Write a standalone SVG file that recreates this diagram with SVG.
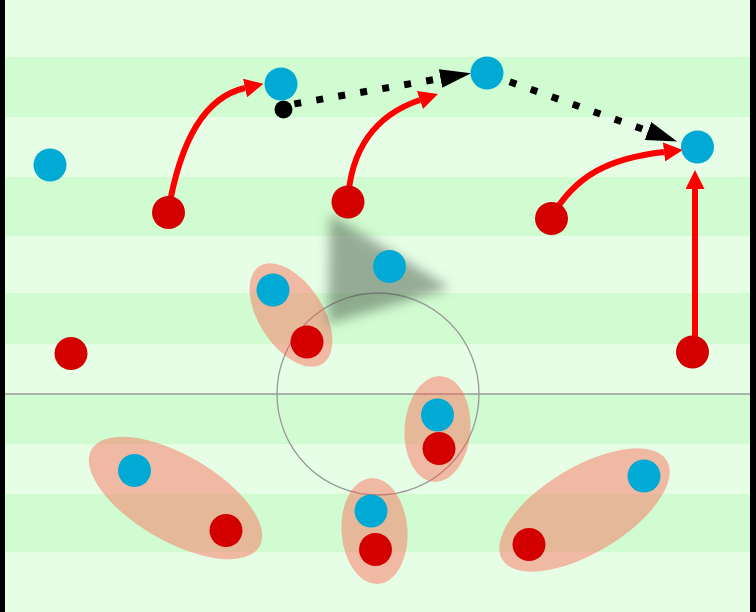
<svg xmlns="http://www.w3.org/2000/svg" width="756" height="612" viewBox="0 0 756 612">
<style>
.light{fill:#e6fee6}
.dark{fill:#d1fcd1}
.blue{fill:#00aad4}
.red{fill:#d40000}
.zone{fill:#ff5a4a;opacity:0.42}
.run{fill:none;stroke:#ff0000;stroke-width:6}
.pass{fill:none;stroke:#000;stroke-width:7;stroke-dasharray:7 15.3}
.pitch{fill:none;stroke:#999;stroke-width:1.3}
</style>
<defs>
<marker id="redhead" markerUnits="userSpaceOnUse" markerWidth="19" markerHeight="19" refX="0" refY="9.5" orient="auto" viewBox="0 0 19 19">
<path d="M0,0 L19,9.5 L0,19 Z" fill="#ff0000"/>
</marker>
<marker id="blackhead" markerUnits="userSpaceOnUse" markerWidth="31" markerHeight="19" refX="0" refY="9.5" orient="auto" viewBox="0 0 31 19">
<path d="M0,0 L31,9.5 L0,19 Z" fill="#000"/>
</marker>
<filter id="blur" x="-30%" y="-30%" width="160%" height="160%">
<feGaussianBlur stdDeviation="6"/>
</filter>
</defs>
<g id="pitch">
<rect x="0" y="0" width="756" height="612" class="light"/>
<rect x="0" y="57" width="756" height="60" class="dark"/>
<rect x="0" y="177" width="756" height="59" class="dark"/>
<rect x="0" y="293" width="756" height="51" class="dark"/>
<rect x="0" y="394" width="756" height="50" class="dark"/>
<rect x="0" y="494" width="756" height="58" class="dark"/>
<line x1="5" y1="394" x2="750" y2="394" class="pitch"/>
<circle cx="378" cy="394" r="101" class="pitch"/>
<rect x="0" y="0" width="5" height="612" fill="#000"/>
<rect x="750" y="0" width="6" height="612" fill="#000"/>
</g>
<g id="zones">
<ellipse id="zone1" cx="291" cy="315" rx="58" ry="32" transform="rotate(57 291 315)" class="zone"/>
<ellipse id="zone2" cx="437.5" cy="429" rx="33" ry="53" transform="rotate(4 437.5 429)" class="zone"/>
<ellipse id="zone3" cx="175.5" cy="498" rx="97" ry="43" transform="rotate(30 175.5 498)" class="zone"/>
<ellipse id="zone4" cx="374.5" cy="531" rx="33" ry="53" transform="rotate(-4 374.5 531)" class="zone"/>
<ellipse id="zone5" cx="584.5" cy="510" rx="96" ry="43" transform="rotate(-31 584.5 510)" class="zone"/>
</g>
<g id="shadow">
<polygon points="330,214 450,288 328,324" fill="#4a5a4a" opacity="0.5" filter="url(#blur)"/>
</g>
<g id="connectors">
<path class="run" d="M168,213 C180,140 205,97 245,88" marker-end="url(#redhead)"/>
<path class="run" d="M348,202 C350,150 375,115 420,100" marker-end="url(#redhead)"/>
<path class="run" d="M551,218 C575,175 610,158 664,152" marker-end="url(#redhead)"/>
<path class="run" d="M695,352 L695,189" marker-end="url(#redhead)"/>
<path class="pass" d="M294.3,103.9 L440.5,78.5" marker-end="url(#blackhead)"/>
<path class="pass" d="M509.7,81.8 L648,131" marker-end="url(#blackhead)"/>
</g>
<g id="ball"><circle cx="283.5" cy="109.5" r="9" fill="#000"/></g>
<g id="b1"><circle cx="281" cy="84" r="16.5" class="blue"/></g>
<g id="b2"><circle cx="50" cy="165" r="16.5" class="blue"/></g>
<g id="b3"><circle cx="487" cy="73" r="16.5" class="blue"/></g>
<g id="b4"><circle cx="697.5" cy="147" r="16.5" class="blue"/></g>
<g id="b5"><circle cx="389.5" cy="266.5" r="16.5" class="blue"/></g>
<g id="b6"><circle cx="273" cy="290" r="16.5" class="blue"/></g>
<g id="b7"><circle cx="437.5" cy="415" r="16.5" class="blue"/></g>
<g id="b8"><circle cx="134.5" cy="470.5" r="16.5" class="blue"/></g>
<g id="b9"><circle cx="371" cy="511" r="16.5" class="blue"/></g>
<g id="b10"><circle cx="644" cy="476" r="16.5" class="blue"/></g>
<g id="r1"><circle cx="168.5" cy="212.5" r="16.5" class="red"/></g>
<g id="r2"><circle cx="348" cy="202" r="16.5" class="red"/></g>
<g id="r3"><circle cx="551.5" cy="218.5" r="16.5" class="red"/></g>
<g id="r4"><circle cx="71" cy="353.5" r="16.5" class="red"/></g>
<g id="r5"><circle cx="692.5" cy="352" r="16.5" class="red"/></g>
<g id="r6"><circle cx="307" cy="342" r="16.5" class="red"/></g>
<g id="r7"><circle cx="439" cy="448.5" r="16.5" class="red"/></g>
<g id="r8"><circle cx="226" cy="530.5" r="16.5" class="red"/></g>
<g id="r9"><circle cx="375.5" cy="549.5" r="16.5" class="red"/></g>
<g id="r10"><circle cx="529" cy="544.5" r="16.5" class="red"/></g>
</svg>
